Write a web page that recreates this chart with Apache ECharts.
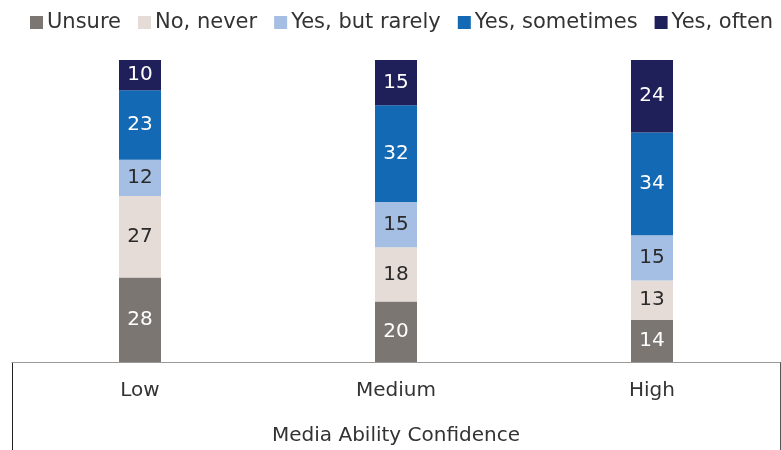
<!DOCTYPE html>
<html><head><meta charset="utf-8">
<script src="https://cdn.jsdelivr.net/npm/echarts@6/dist/echarts.min.js"></script>
<style>html,body{margin:0;padding:0;background:#fff}#c{width:781px;height:450px}</style>
</head><body><div id="c"></div>
<script>
const categories = ['Low', 'Medium', 'High'];
const seriesNames = ['Unsure', 'No, never', 'Yes, but rarely', 'Yes, sometimes', 'Yes, often'];
const unsure = [28, 20, 14];
const noNever = [27, 18, 13];
const yesRarely = [12, 15, 15];
const yesSometimes = [23, 32, 34];
const yesOften = [10, 15, 24];
const axisTitle = 'Media Ability Confidence';

const colors = ['#7b7671', '#e5dcd7', '#a4bee4', '#1469b4', '#1f1f5a'];
const labelColors = ['#ffffff', '#2a2a2a', '#2a2a2a', '#ffffff', '#ffffff'];
const values = [unsure, noNever, yesRarely, yesSometimes, yesOften];
const FONT = '"DejaVu Sans", sans-serif';

const chart = echarts.init(document.getElementById('c'));
chart.setOption({
  animation: false,
  textStyle: {fontFamily: FONT},
  legend: {
    top: 7, left: 25, width: 781, padding: 5, itemWidth: 13, itemHeight: 13, itemGap: 17,
    icon: 'rect',
    textStyle: {fontSize: 21, color: '#333', fontFamily: FONT, padding: [0, 0, 0, -1]},
    data: seriesNames
  },
  grid: {left: 12, right: 1, top: 60, bottom: 88, containLabel: false, outerBoundsMode: 'none'},
  xAxis: {
    type: 'category', data: categories,
    axisLine: {lineStyle: {color: '#999', width: 1}},
    axisTick: {show: false},
    axisLabel: {fontSize: 20, color: '#333', margin: 19, fontFamily: FONT},
    name: axisTitle, nameLocation: 'middle', nameGap: 64,
    nameTextStyle: {fontSize: 20, color: '#333', fontFamily: FONT}
  },
  yAxis: {type: 'value', min: 0, max: 100, show: false},
  series: seriesNames.map((n, i) => ({
    name: n, type: 'bar', stack: 'all', barWidth: 42,
    itemStyle: {color: colors[i]},
    label: {show: true, position: 'inside', fontSize: 20, color: labelColors[i], fontFamily: FONT},
    data: values[i]
  }))
});
const yTop = chart.convertToPixel({gridIndex: 0}, [0, 0])[1];
chart.setOption({
  graphic: [
    {type: 'line', shape: {x1: 12.5, y1: yTop, x2: 12.5, y2: 450}, style: {stroke: '#222', lineWidth: 1}},
    {type: 'line', shape: {x1: 780.5, y1: yTop, x2: 780.5, y2: 450}, style: {stroke: '#555', lineWidth: 1}}
  ]
});
</script></body></html>
